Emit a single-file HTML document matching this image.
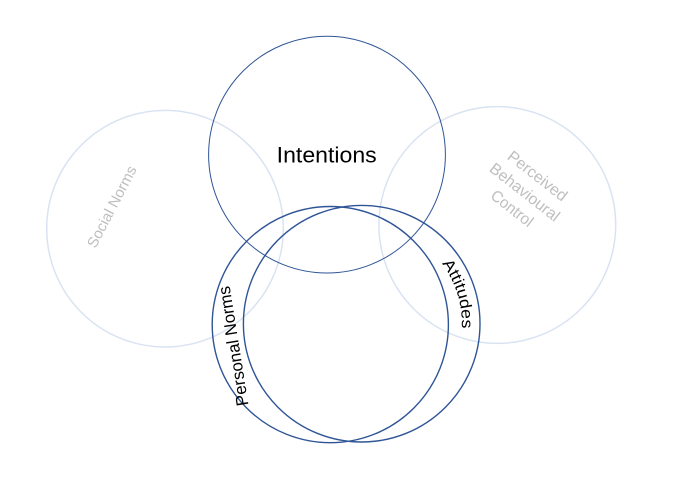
<!DOCTYPE html>
<html>
<head>
<meta charset="utf-8">
<style>
  html, body { margin: 0; padding: 0; background: #ffffff; }
  body { width: 674px; height: 484px; overflow: hidden; }
  svg { display: block; }
  text { font-family: "Liberation Sans", "DejaVu Sans", sans-serif; }
</style>
</head>
<body>
<svg width="674" height="484" viewBox="0 0 674 484" xmlns="http://www.w3.org/2000/svg">
  <defs>
    <path id="attArc" d="M 441.9 263.5 A 100 100 0 0 1 461.6 330.0" fill="none"/>
  </defs>

  <!-- light circles -->
  <circle cx="165" cy="228.7" r="118.3" fill="none" stroke="#DAE3F3" stroke-width="1.5"/>
  <circle cx="497.3" cy="225" r="118.4" fill="none" stroke="#DAE3F3" stroke-width="1.5"/>

  <!-- Intentions circle -->
  <circle cx="327" cy="154.6" r="118.4" fill="none" stroke="#2F5597" stroke-width="1"/>

  <!-- Personal Norms & Attitudes circles -->
  <circle cx="330.3" cy="324.6" r="118.1" fill="none" stroke="#2F5597" stroke-width="1.4"/>
  <circle cx="361.7" cy="323.7" r="118.3" fill="none" stroke="#2F5597" stroke-width="1.4"/>

  <!-- Intentions label -->
  <text x="276.7" y="162.3" font-size="22" fill="#000000" textLength="100" lengthAdjust="spacingAndGlyphs">Intentions</text>

  <!-- Social Norms label -->
  <text transform="translate(95.5,249) rotate(-62.5)" font-size="15" fill="#BFBFBF" textLength="90" lengthAdjust="spacingAndGlyphs">Social Norms</text>

  <!-- Perceived Behavioural Control label -->
  <g transform="translate(521.5,196.4) rotate(38)" fill="#BFBFBF" font-size="16" text-anchor="middle">
    <text x="0" y="-20.6" textLength="71" lengthAdjust="spacingAndGlyphs">Perceived</text>
    <text x="0" y="0" textLength="84" lengthAdjust="spacingAndGlyphs">Behavioural</text>
    <text x="0" y="20.6" textLength="49" lengthAdjust="spacingAndGlyphs">Control</text>
  </g>

  <!-- Personal Norms label -->
  <text transform="translate(248.5,405) rotate(-99)" font-size="17" fill="#000000" textLength="121" lengthAdjust="spacingAndGlyphs">Personal Norms</text>

  <!-- Attitudes label along arc -->
  <text font-size="16" fill="#000000">
    <textPath href="#attArc" textLength="69" lengthAdjust="spacingAndGlyphs">Attitudes</textPath>
  </text>
</svg>
</body>
</html>
